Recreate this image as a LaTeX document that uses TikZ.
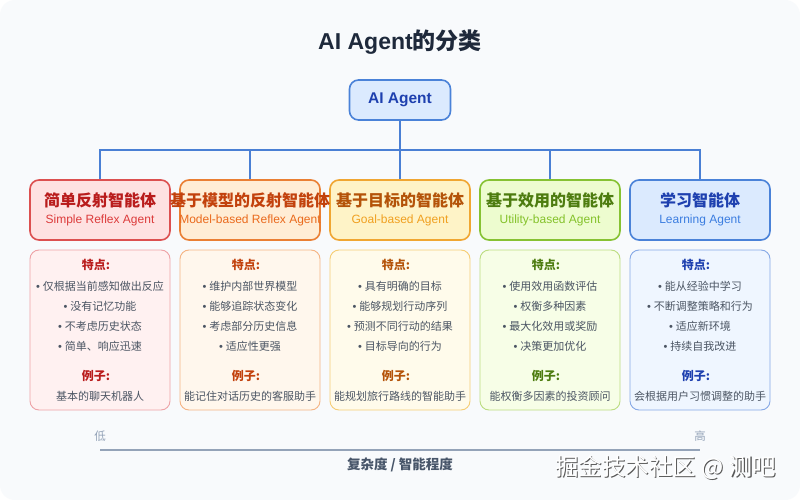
\documentclass[tikz,border=0pt]{standalone}
\usepackage{fontspec}
\setmainfont{Noto Sans CJK SC}
\newfontfamily\lat{Liberation Sans}
\usetikzlibrary{positioning}
\definecolor{bgc}{HTML}{F8FAFC}
\definecolor{titlec}{HTML}{1E293B}
\definecolor{connc}{HTML}{4A7FD4}
\definecolor{txtc}{HTML}{4B5563}
\definecolor{axisc}{HTML}{94A3B8}
\definecolor{axtxt}{HTML}{475569}
% per-category colours
\definecolor{rB}{HTML}{DC5050}\definecolor{rF}{HTML}{FEE2E2}\definecolor{rT}{HTML}{B91C1C}\definecolor{rS}{HTML}{DC3B3B}\definecolor{rLB}{HTML}{EEA2A6}\definecolor{rLF}{HTML}{FFF1F1}
\definecolor{oB}{HTML}{EA7F33}\definecolor{oF}{HTML}{FFEDD5}\definecolor{oT}{HTML}{C2410C}\definecolor{oS}{HTML}{EA6A1C}\definecolor{oLB}{HTML}{F5B483}\definecolor{oLF}{HTML}{FFF7ED}
\definecolor{yB}{HTML}{F0A632}\definecolor{yF}{HTML}{FEF3C7}\definecolor{yT}{HTML}{B45309}\definecolor{yS}{HTML}{F0A020}\definecolor{yLB}{HTML}{F6CD74}\definecolor{yLF}{HTML}{FFFBEB}
\definecolor{gB}{HTML}{86C232}\definecolor{gF}{HTML}{EDFCCF}\definecolor{gT}{HTML}{4D7C0F}\definecolor{gS}{HTML}{84C22A}\definecolor{gLB}{HTML}{BCDD80}\definecolor{gLF}{HTML}{F7FEE7}
\definecolor{bB}{HTML}{4A82D8}\definecolor{bF}{HTML}{DBEAFE}\definecolor{bT}{HTML}{1E40AF}\definecolor{bS}{HTML}{3B7DE0}\definecolor{bLB}{HTML}{86A9E6}\definecolor{bLF}{HTML}{EFF6FF}
\newcommand{\bul}{{\lat •}\hspace{3pt}}
\tikzset{
  catbox/.style={draw, line width=1.6pt, rounded corners=9pt, minimum width=140pt, minimum height=60pt, inner sep=0pt},
  detbox/.style={draw, line width=0.9pt, rounded corners=9pt, minimum width=140pt, minimum height=160pt, inner sep=0pt},
  cattitle/.style={font=\fontsize{16}{18}\selectfont\bfseries, inner sep=0pt},
  catsub/.style={font=\lat\fontsize{12}{14}\selectfont, inner sep=0pt},
  dethead/.style={font=\fontsize{12}{14}\selectfont\bfseries, inner sep=0pt},
  detitem/.style={font=\fontsize{11}{13}\selectfont, text=txtc, inner sep=0pt},
  conn/.style={draw=connc, line width=1.6pt},
}
\begin{document}
\begin{tikzpicture}[x=1pt,y=-1pt]
\useasboundingbox (0,0) rectangle (800,500);
\fill[white] (0,0) rectangle (800,500);
\fill[bgc] (0,0) [rounded corners=15pt] rectangle (800,500);

\node[font=\fontsize{23}{26}\selectfont\bfseries, text=titlec] (title) at (400,42) {{\lat\bfseries AI Agent}的分类};

\node[draw=bB, fill=bF, line width=1.6pt, rounded corners=9pt, minimum width=101pt, minimum height=40pt, inner sep=0pt,
      font=\lat\fontsize{15.5}{17}\selectfont\bfseries, text=bT] (root) at (400,100) {AI Agent};

% category boxes
\node[catbox, draw=rB, fill=rF] (c1) at (100,210) {};
\node[catbox, draw=oB, fill=oF] (c2) at (250,210) {};
\node[catbox, draw=yB, fill=yF] (c3) at (400,210) {};
\node[catbox, draw=gB, fill=gF] (c4) at (550,210) {};
\node[catbox, draw=bB, fill=bF] (c5) at (700,210) {};

\coordinate (hub) at (400,150);
\draw[conn] (root.south) -- (hub);
\draw[conn] (hub) -| (c1.north);
\draw[conn] (hub) -| (c2.north);
\draw[conn] (hub) -- (c3.north);
\draw[conn] (hub) -| (c4.north);
\draw[conn] (hub) -| (c5.north);

\node[cattitle, text=rT] (t1) at (100,200) {简单反射智能体};
\node[catsub, text=rS] (s1) at (100,220) {Simple Reflex Agent};
\node[cattitle, text=oT] (t2) at (250,200) {基于模型的反射智能体};
\node[catsub, text=oS] (s2) at (250,220) {Model-based Reflex Agent};
\node[cattitle, text=yT] (t3) at (400,200) {基于目标的智能体};
\node[catsub, text=yS] (s3) at (400,220) {Goal-based Agent};
\node[cattitle, text=gT] (t4) at (550,200) {基于效用的智能体};
\node[catsub, text=gS] (s4) at (550,220) {Utility-based Agent};
\node[cattitle, text=bT] (t5) at (700,200) {学习智能体};
\node[catsub, text=bS] (s5) at (700,220) {Learning Agent};

% detail boxes
\node[detbox, draw=rLB, fill=rLF] (d1) at (100,330) {};
\node[detbox, draw=oLB, fill=oLF] (d2) at (250,330) {};
\node[detbox, draw=yLB, fill=yLF] (d3) at (400,330) {};
\node[detbox, draw=gLB, fill=gLF] (d4) at (550,330) {};
\node[detbox, draw=bLB, fill=bLF] (d5) at (700,330) {};

% column 1
\node[dethead, text=rT] (h1) at (96,265) {特点:};
\node[detitem] (i11) at (100,286) {\bul 仅根据当前感知做出反应};
\node[detitem] (i12) at (100,306) {\bul 没有记忆功能};
\node[detitem] (i13) at (100,326) {\bul 不考虑历史状态};
\node[detitem] (i14) at (100,346) {\bul 简单、响应迅速};
\node[dethead, text=rT] (e1) at (96,376) {例子:};
\node[detitem] (x1) at (100,396) {基本的聊天机器人};

% column 2
\node[dethead, text=oT] (h2) at (246,265) {特点:};
\node[detitem] (i21) at (250,286) {\bul 维护内部世界模型};
\node[detitem] (i22) at (250,306) {\bul 能够追踪状态变化};
\node[detitem] (i23) at (250,326) {\bul 考虑部分历史信息};
\node[detitem] (i24) at (250,346) {\bul 适应性更强};
\node[dethead, text=oT] (e2) at (246,376) {例子:};
\node[detitem] (x2) at (250,396) {能记住对话历史的客服助手};

% column 3
\node[dethead, text=yT] (h3) at (396,265) {特点:};
\node[detitem] (i31) at (400,286) {\bul 具有明确的目标};
\node[detitem] (i32) at (400,306) {\bul 能够规划行动序列};
\node[detitem] (i33) at (400,326) {\bul 预测不同行动的结果};
\node[detitem] (i34) at (400,346) {\bul 目标导向的行为};
\node[dethead, text=yT] (e3) at (396,376) {例子:};
\node[detitem] (x3) at (400,396) {能规划旅行路线的智能助手};

% column 4
\node[dethead, text=gT] (h4) at (546,265) {特点:};
\node[detitem] (i41) at (550,286) {\bul 使用效用函数评估};
\node[detitem] (i42) at (550,306) {\bul 权衡多种因素};
\node[detitem] (i43) at (550,326) {\bul 最大化效用或奖励};
\node[detitem] (i44) at (550,346) {\bul 决策更加优化};
\node[dethead, text=gT] (e4) at (546,376) {例子:};
\node[detitem] (x4) at (550,396) {能权衡多因素的投资顾问};

% column 5
\node[dethead, text=bT] (h5) at (696,265) {特点:};
\node[detitem] (i51) at (700,286) {\bul 能从经验中学习};
\node[detitem] (i52) at (700,306) {\bul 不断调整策略和行为};
\node[detitem] (i53) at (700,326) {\bul 适应新环境};
\node[detitem] (i54) at (700,346) {\bul 持续自我改进};
\node[dethead, text=bT] (e5) at (696,376) {例子:};
\node[detitem] (x5) at (700,396) {会根据用户习惯调整的助手};

% axis
\coordinate (axL) at (100,450);
\coordinate (axR) at (700,450);
\draw[axisc, line width=1.5pt] (axL) -- (axR);
\node[font=\fontsize{11.5}{13}\selectfont, text=axisc] (lo) at (100,436) {低};
\node[font=\fontsize{11.5}{13}\selectfont, text=axisc] (hi) at (700,436) {高};
\node[font=\fontsize{13.5}{15}\selectfont\bfseries, text=axtxt] (axlab) at (400,465) {复杂度 / 智能程度};

% watermark
\node[font=\fontsize{23.5}{26}\selectfont, text=gray!70!black] (wms) at (666.8,468.8) {掘金技术社区 @ 测吧};
\node[font=\fontsize{23.5}{26}\selectfont, text=white] (wm) at (665.5,467.5) {掘金技术社区 @ 测吧};
\end{tikzpicture}
\end{document}
